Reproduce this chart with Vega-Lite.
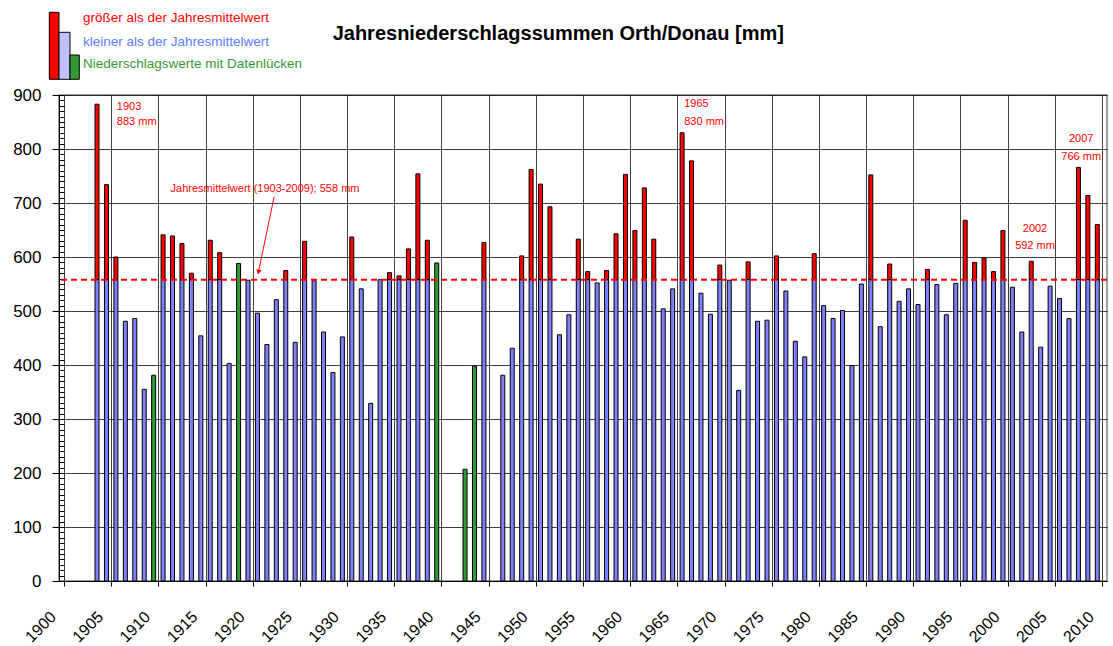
{
  "$schema": "https://vega.github.io/schema/vega-lite/v6.json",
  "width": 1048,
  "height": 486,
  "autosize": {"type": "none"},
  "padding": {"left": 59, "top": 95, "right": 6, "bottom": 65},
  "background": "white",
  "title": {"text": "Jahresniederschlagssummen Orth/Donau [mm]", "anchor": "start", "dx": 320, "offset": -36, "fontSize": 20, "font": "Liberation Sans", "fontWeight": "bold", "color": "#000000"},
  "config": {"view": {"stroke": "#808080", "strokeWidth": 1.5}, "font": "Liberation Sans"},
  "datasets": {
    "jahre": [
      {"jahr": 1903, "mm": 883, "luecke": false}, {"jahr": 1904, "mm": 734, "luecke": false}, {"jahr": 1905, "mm": 600, "luecke": false},
      {"jahr": 1906, "mm": 481, "luecke": false}, {"jahr": 1907, "mm": 486, "luecke": false}, {"jahr": 1908, "mm": 355, "luecke": false},
      {"jahr": 1909, "mm": 381, "luecke": true}, {"jahr": 1910, "mm": 641, "luecke": false}, {"jahr": 1911, "mm": 639, "luecke": false},
      {"jahr": 1912, "mm": 625, "luecke": false}, {"jahr": 1913, "mm": 570, "luecke": false}, {"jahr": 1914, "mm": 454, "luecke": false},
      {"jahr": 1915, "mm": 631, "luecke": false}, {"jahr": 1916, "mm": 608, "luecke": false}, {"jahr": 1917, "mm": 403, "luecke": false},
      {"jahr": 1918, "mm": 588, "luecke": true}, {"jahr": 1919, "mm": 557, "luecke": false}, {"jahr": 1920, "mm": 496, "luecke": false},
      {"jahr": 1921, "mm": 438, "luecke": false}, {"jahr": 1922, "mm": 521, "luecke": false}, {"jahr": 1923, "mm": 575, "luecke": false},
      {"jahr": 1924, "mm": 442, "luecke": false}, {"jahr": 1925, "mm": 629, "luecke": false}, {"jahr": 1926, "mm": 556, "luecke": false},
      {"jahr": 1927, "mm": 461, "luecke": false}, {"jahr": 1928, "mm": 386, "luecke": false}, {"jahr": 1929, "mm": 452, "luecke": false},
      {"jahr": 1930, "mm": 637, "luecke": false}, {"jahr": 1931, "mm": 541, "luecke": false}, {"jahr": 1932, "mm": 329, "luecke": false},
      {"jahr": 1933, "mm": 558, "luecke": false}, {"jahr": 1934, "mm": 571, "luecke": false}, {"jahr": 1935, "mm": 565, "luecke": false},
      {"jahr": 1936, "mm": 615, "luecke": false}, {"jahr": 1937, "mm": 754, "luecke": false}, {"jahr": 1938, "mm": 631, "luecke": false},
      {"jahr": 1939, "mm": 589, "luecke": true}, {"jahr": 1942, "mm": 207, "luecke": true}, {"jahr": 1943, "mm": 398, "luecke": true},
      {"jahr": 1944, "mm": 627, "luecke": false}, {"jahr": 1946, "mm": 381, "luecke": false}, {"jahr": 1947, "mm": 431, "luecke": false},
      {"jahr": 1948, "mm": 602, "luecke": false}, {"jahr": 1949, "mm": 762, "luecke": false}, {"jahr": 1950, "mm": 735, "luecke": false},
      {"jahr": 1951, "mm": 693, "luecke": false}, {"jahr": 1952, "mm": 456, "luecke": false}, {"jahr": 1953, "mm": 493, "luecke": false},
      {"jahr": 1954, "mm": 633, "luecke": false}, {"jahr": 1955, "mm": 573, "luecke": false}, {"jahr": 1956, "mm": 552, "luecke": false},
      {"jahr": 1957, "mm": 575, "luecke": false}, {"jahr": 1958, "mm": 643, "luecke": false}, {"jahr": 1959, "mm": 753, "luecke": false},
      {"jahr": 1960, "mm": 649, "luecke": false}, {"jahr": 1961, "mm": 728, "luecke": false}, {"jahr": 1962, "mm": 633, "luecke": false},
      {"jahr": 1963, "mm": 504, "luecke": false}, {"jahr": 1964, "mm": 541, "luecke": false}, {"jahr": 1965, "mm": 830, "luecke": false},
      {"jahr": 1966, "mm": 778, "luecke": false}, {"jahr": 1967, "mm": 533, "luecke": false}, {"jahr": 1968, "mm": 494, "luecke": false},
      {"jahr": 1969, "mm": 585, "luecke": false}, {"jahr": 1970, "mm": 557, "luecke": false}, {"jahr": 1971, "mm": 353, "luecke": false},
      {"jahr": 1972, "mm": 591, "luecke": false}, {"jahr": 1973, "mm": 481, "luecke": false}, {"jahr": 1974, "mm": 483, "luecke": false},
      {"jahr": 1975, "mm": 602, "luecke": false}, {"jahr": 1976, "mm": 537, "luecke": false}, {"jahr": 1977, "mm": 444, "luecke": false},
      {"jahr": 1978, "mm": 415, "luecke": false}, {"jahr": 1979, "mm": 606, "luecke": false}, {"jahr": 1980, "mm": 510, "luecke": false},
      {"jahr": 1981, "mm": 486, "luecke": false}, {"jahr": 1982, "mm": 501, "luecke": false}, {"jahr": 1983, "mm": 399, "luecke": false},
      {"jahr": 1984, "mm": 550, "luecke": false}, {"jahr": 1985, "mm": 752, "luecke": false}, {"jahr": 1986, "mm": 471, "luecke": false},
      {"jahr": 1987, "mm": 587, "luecke": false}, {"jahr": 1988, "mm": 518, "luecke": false}, {"jahr": 1989, "mm": 541, "luecke": false},
      {"jahr": 1990, "mm": 512, "luecke": false}, {"jahr": 1991, "mm": 577, "luecke": false}, {"jahr": 1992, "mm": 549, "luecke": false},
      {"jahr": 1993, "mm": 493, "luecke": false}, {"jahr": 1994, "mm": 551, "luecke": false}, {"jahr": 1995, "mm": 668, "luecke": false},
      {"jahr": 1996, "mm": 590, "luecke": false}, {"jahr": 1997, "mm": 598, "luecke": false}, {"jahr": 1998, "mm": 573, "luecke": false},
      {"jahr": 1999, "mm": 649, "luecke": false}, {"jahr": 2000, "mm": 544, "luecke": false}, {"jahr": 2001, "mm": 461, "luecke": false},
      {"jahr": 2002, "mm": 592, "luecke": false}, {"jahr": 2003, "mm": 433, "luecke": false}, {"jahr": 2004, "mm": 546, "luecke": false},
      {"jahr": 2005, "mm": 523, "luecke": false}, {"jahr": 2006, "mm": 486, "luecke": false}, {"jahr": 2007, "mm": 766, "luecke": false},
      {"jahr": 2008, "mm": 714, "luecke": false}, {"jahr": 2009, "mm": 660, "luecke": false}
    ]
  },
  "resolve": {"axis": {"y": "independent"}, "scale": {"color": "independent"}, "legend": {"color": "independent"}},
  "layer": [
    {
      "data": {"name": "jahre"},
      "transform": [{"filter": "!datum.luecke && datum.mm <= 558"}],
      "mark": {"type": "bar", "size": 4, "fill": "#8080ff", "stroke": "#000000", "strokeWidth": 1},
      "encoding": {
        "x": {"field": "jahr", "type": "quantitative", "title": null,
          "scale": {"domain": [1899.5, 2009.5], "nice": false, "zero": false},
          "axis": {"values": [1899.5, 1904.5, 1909.5, 1914.5, 1919.5, 1924.5, 1929.5, 1934.5, 1939.5, 1944.5, 1949.5, 1954.5, 1959.5, 1964.5, 1969.5, 1974.5, 1979.5, 1984.5, 1989.5, 1994.5, 1999.5, 2004.5, 2009.5],
            "labelExpr": "format(datum.value + 0.5, 'd')", "labelAngle": -45, "labelAlign": "right", "labelBaseline": "middle",
            "labelFontSize": 16, "labelFont": "Liberation Sans", "labelColor": "#000000", "labelPadding": 28, "labelOffset": -11,
            "labelOverlap": false, "labelFlush": false, "tickSize": 5, "tickColor": "#000000", "domainColor": "#000000",
            "grid": true, "gridColor": "#000000", "gridOpacity": 0.75, "title": null, "orient": "bottom"}},
        "y": {"field": "mm", "type": "quantitative", "title": null,
          "scale": {"domain": [0, 900], "nice": false, "zero": true},
          "axis": {"orient": "left", "values": [0, 100, 200, 300, 400, 500, 600, 700, 800, 900], "tickSize": 7, "labelPadding": 11,
            "labelFontSize": 17, "labelFont": "Liberation Sans", "labelColor": "#000000", "tickColor": "#000000", "domainColor": "#000000",
            "grid": true, "gridColor": "#000000", "gridOpacity": 0.75, "title": null}}
      }
    },
    {
      "data": {"name": "jahre"},
      "transform": [{"filter": "!datum.luecke && datum.mm > 558"}],
      "mark": {"type": "bar", "size": 4, "fill": "#ff0000", "stroke": "#000000", "strokeWidth": 1},
      "encoding": {
        "x": {"field": "jahr", "type": "quantitative", "title": null},
        "y": {"field": "mm", "type": "quantitative", "axis": null},
        "y2": {"datum": 558}
      }
    },
    {
      "data": {"name": "jahre"},
      "transform": [{"filter": "!datum.luecke && datum.mm > 558"}],
      "mark": {"type": "bar", "size": 4, "fill": "#8080ff", "stroke": "#000000", "strokeWidth": 1},
      "encoding": {
        "x": {"field": "jahr", "type": "quantitative", "title": null},
        "y": {"datum": 558, "type": "quantitative", "axis": null},
        "y2": {"datum": 0}
      }
    },
    {
      "data": {"name": "jahre"},
      "transform": [{"filter": "datum.luecke"}],
      "mark": {"type": "bar", "size": 4, "fill": "#339933", "stroke": "#000000", "strokeWidth": 1},
      "encoding": {
        "x": {"field": "jahr", "type": "quantitative", "title": null},
        "y": {"field": "mm", "type": "quantitative", "axis": null}
      }
    },
    {
      "data": {"values": [{}]},
      "mark": {"type": "rule", "color": "#ff0000", "strokeWidth": 2, "strokeDash": [6, 4]},
      "encoding": {
        "y": {"datum": 558, "type": "quantitative",
          "axis": {"orient": "left", "values": [0,10,20,30,40,50,60,70,80,90,100,110,120,130,140,150,160,170,180,190,200,210,220,230,240,250,260,270,280,290,300,310,320,330,340,350,360,370,380,390,400,410,420,430,440,450,460,470,480,490,500,510,520,530,540,550,560,570,580,590,600,610,620,630,640,650,660,670,680,690,700,710,720,730,740,750,760,770,780,790,800,810,820,830,840,850,860,870,880,890,900],
            "tickSize": -5, "labels": false, "grid": false, "domain": false, "tickColor": "#000000", "title": null}}
      }
    },
    {
      "data": {"values": [{}]},
      "mark": {"type": "rule", "color": "#ff0000", "strokeWidth": 1},
      "encoding": {
        "x": {"datum": 1921.77, "type": "quantitative"},
        "x2": {"datum": 1920.1},
        "y": {"datum": 711.7, "type": "quantitative", "axis": null},
        "y2": {"datum": 572}
      }
    },
    {
      "data": {"values": [{}]},
      "mark": {"type": "point", "shape": "triangle-down", "filled": true, "color": "#ff0000", "size": 30, "angle": 12, "opacity": 1},
      "encoding": {
        "x": {"datum": 1920.1, "type": "quantitative"},
        "y": {"datum": 572, "type": "quantitative", "axis": null}
      }
    },
    {
      "data": {"values": [{}]},
      "mark": {"type": "text", "text": "Jahresmittelwert (1903-2009); 558 mm", "font": "Liberation Sans", "fontSize": 11, "color": "#ff0000", "align": "center", "baseline": "middle"},
      "encoding": {
        "x": {"datum": 1920.8, "type": "quantitative"},
        "y": {"datum": 725.4, "type": "quantitative", "axis": null}
      }
    },
    {
      "data": {"values": [{}]},
      "mark": {"type": "text", "text": ["1903", "883 mm"], "lineHeight": 15, "font": "Liberation Sans", "fontSize": 11, "color": "#ff0000", "align": "left", "baseline": "middle"},
      "encoding": {
        "x": {"datum": 1905.1, "type": "quantitative"},
        "y": {"datum": 878.3, "type": "quantitative", "axis": null}
      }
    },
    {
      "data": {"values": [{}]},
      "mark": {"type": "text", "text": ["1965", "830 mm"], "lineHeight": 18, "font": "Liberation Sans", "fontSize": 11, "color": "#ff0000", "align": "left", "baseline": "middle"},
      "encoding": {
        "x": {"datum": 1965.23, "type": "quantitative"},
        "y": {"datum": 883.3, "type": "quantitative", "axis": null}
      }
    },
    {
      "data": {"values": [{}]},
      "mark": {"type": "text", "text": ["2002", "592 mm"], "lineHeight": 17, "font": "Liberation Sans", "fontSize": 11, "color": "#ff0000", "align": "center", "baseline": "middle"},
      "encoding": {
        "x": {"datum": 2002.4, "type": "quantitative"},
        "y": {"datum": 651.5, "type": "quantitative", "axis": null}
      }
    },
    {
      "data": {"values": [{}]},
      "mark": {"type": "text", "text": ["2007", "766 mm"], "lineHeight": 18, "font": "Liberation Sans", "fontSize": 11, "color": "#ff0000", "align": "center", "baseline": "middle"},
      "encoding": {
        "x": {"datum": 2007.3, "type": "quantitative"},
        "y": {"datum": 818.5, "type": "quantitative", "axis": null}
      }
    },
    {
      "data": {"name": "jahre"},
      "transform": [{"filter": "false"}],
      "mark": {"type": "point", "filled": true, "stroke": "#000000", "strokeWidth": 1, "opacity": 1},
      "encoding": {
        "color": {"field": "k1", "type": "nominal", "title": null,
          "scale": {"domain": ["größer als der Jahresmittelwert"], "range": ["#ff0000"]},
          "legend": {"orient": "none", "legendX": -5, "legendY": -87.2, "title": null,
            "symbolType": "M0,-1M-1.52,-0.6H-0.55V6.1H-1.52Z", "symbolSize": 400, "symbolStrokeColor": "#000000", "symbolStrokeWidth": 1, "symbolOpacity": 1,
            "labelFont": "Liberation Sans", "labelFontSize": 13.5, "labelOffset": 8, "labelLimit": 400, "labelColor": "#ff0000"}}
      }
    },
    {
      "data": {"name": "jahre"},
      "transform": [{"filter": "false"}],
      "mark": {"type": "point", "filled": true, "stroke": "#000000", "strokeWidth": 1, "opacity": 1},
      "encoding": {
        "color": {"field": "k2", "type": "nominal", "title": null,
          "scale": {"domain": ["kleiner als der Jahresmittelwert"], "range": ["#c0c0ff"]},
          "legend": {"orient": "none", "legendX": -5, "legendY": -63.8, "title": null,
            "symbolType": "M0,-1M-0.55,-0.94H0.55V3.76H-0.55Z", "symbolSize": 400, "symbolStrokeColor": "#000000", "symbolStrokeWidth": 1, "symbolOpacity": 1,
            "labelFont": "Liberation Sans", "labelFontSize": 13.5, "labelOffset": 8, "labelLimit": 400, "labelColor": "#5b7cff"}}
      }
    },
    {
      "data": {"name": "jahre"},
      "transform": [{"filter": "false"}],
      "mark": {"type": "point", "filled": true, "stroke": "#000000", "strokeWidth": 1, "opacity": 1},
      "encoding": {
        "color": {"field": "k3", "type": "nominal", "title": null,
          "scale": {"domain": ["Niederschlagswerte mit Datenlücken"], "range": ["#339933"]},
          "legend": {"orient": "none", "legendX": -5, "legendY": -41.5, "title": null,
            "symbolType": "M0,-1M0.55,-0.9H1.48V1.53H0.55Z", "symbolSize": 400, "symbolStrokeColor": "#000000", "symbolStrokeWidth": 1, "symbolOpacity": 1,
            "labelFont": "Liberation Sans", "labelFontSize": 13.5, "labelOffset": 8, "labelLimit": 400, "labelColor": "#339933"}}
      }
    }
  ]
}
